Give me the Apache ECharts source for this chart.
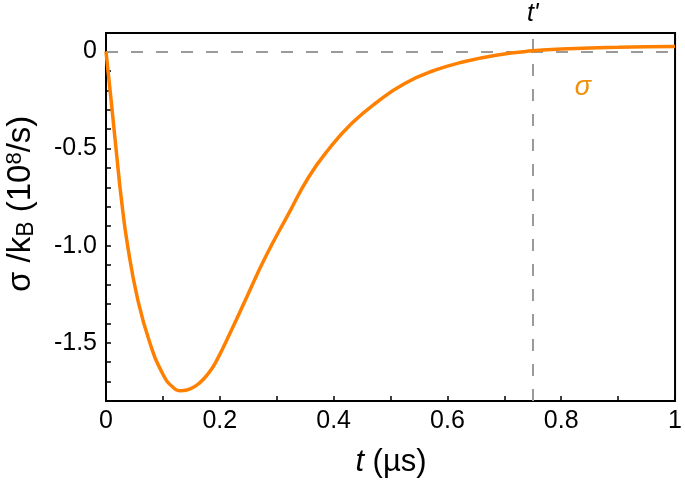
<!DOCTYPE html>
<html>
<head>
<meta charset="utf-8">
<script src="https://cdn.jsdelivr.net/npm/echarts@6/dist/echarts.min.js"></script>
<style>
  html, body { margin: 0; padding: 0; background: #fff; }
  #mychart { width: 685px; height: 482px; }
</style>
</head>
<body>
<div id="mychart"></div>
<script>
// values
const tVals = [0, 0.005, 0.010, 0.019, 0.027, 0.038, 0.056, 0.077, 0.100, 0.117, 0.132, 0.148, 0.164, 0.180, 0.193,
  0.222, 0.245, 0.280, 0.321, 0.356, 0.391, 0.432, 0.478, 0.525, 0.577, 0.629, 0.688, 0.75, 0.80, 0.85, 0.90, 0.95, 1.0]
const sigmaVals = [0, -0.14, -0.28, -0.54, -0.76, -1.00, -1.28, -1.50, -1.662, -1.727, -1.747, -1.738, -1.708, -1.657, -1.60,
  -1.425, -1.28, -1.06, -0.835, -0.648, -0.505, -0.370, -0.257, -0.165, -0.098, -0.053, -0.018, 0.003, 0.012, 0.018, 0.021, 0.024, 0.026]
const tPrime = 0.75
const xTickLabels = ['0', '0.2', '0.4', '0.6', '0.8', '1']
const yTickLabels = ['0', '-0.5', '-1.0', '-1.5']

const font = 'Liberation Sans, Arial, sans-serif'
const orange = '#ff8000'
const grey = '#9a9a9a'

const mychart = echarts.init(document.getElementById('mychart'))

mychart.setOption({
  animation: false,
  grid: {
    left: 106,
    top: 33,
    width: 573,
    height: 368,
    show: true,
    borderColor: '#000',
    borderWidth: 2
  },
  xAxis: {
    type: 'value',
    min: 0,
    max: 1,
    interval: 0.1,
    axisLine: { onZero: false, lineStyle: { color: '#000', width: 2 } },
    axisTick: { inside: true, length: 5, lineStyle: { color: '#000', width: 1.5 } },
    splitLine: { show: false },
    axisLabel: {
      margin: 8,
      fontFamily: font,
      fontSize: 25,
      color: '#000',
      formatter: function (v) {
        const k = Math.round(v * 5)
        if (Math.abs(v * 5 - k) > 1e-6) return ''
        return xTickLabels[k]
      }
    }
  },
  yAxis: {
    type: 'value',
    min: -1.8,
    max: 0.095,
    interval: 0.1,
    axisLine: { onZero: false, lineStyle: { color: '#000', width: 2 } },
    axisTick: { inside: true, length: 5, lineStyle: { color: '#000', width: 1.5 } },
    splitLine: { show: false },
    axisLabel: {
      margin: 9,
      fontFamily: font,
      fontSize: 25,
      color: '#000',
      formatter: function (v) {
        const k = Math.round(-v * 2)
        if (Math.abs(-v * 2 - k) > 1e-6 || k > 3 || k < 0) return ''
        return yTickLabels[k]
      }
    }
  },
  graphic: [
    { // y axis title, reads bottom to top
      type: 'text',
      x: 21,
      y: 292,
      rotation: Math.PI / 2,
      style: {
        text: 'σ /k{sub|B} (10{sup|8}/s)',
        font: '33px ' + font,
        fill: '#000',
        align: 'left',
        verticalAlign: 'middle',
        rich: {
          sub: { fontSize: 23, fontFamily: font, verticalAlign: 'bottom', padding: [10, 0, 0, 0] },
          sup: { fontSize: 22, fontFamily: font, verticalAlign: 'top', padding: [0, 0, 12, 0] }
        }
      }
    },
    { // x axis title
      type: 'text',
      x: 391,
      y: 462,
      style: {
        text: '{i|t} (µs)',
        font: '31px ' + font,
        fill: '#000',
        align: 'center',
        verticalAlign: 'middle',
        rich: {
          i: { fontStyle: 'italic', fontSize: 31, fontFamily: font }
        }
      }
    },
    { // series label
      type: 'text',
      x: 583,
      y: 87,
      style: {
        text: 'σ',
        font: 'italic 27px ' + font,
        fill: '#f0900a',
        align: 'center',
        verticalAlign: 'middle'
      }
    }
  ],
  series: [{
    type: 'line',
    data: tVals.map((t, i) => [t, sigmaVals[i]]),
    showSymbol: false,
    smooth: 0.5,
    lineStyle: { color: orange, width: 3.5 },
    z: 3,
    markLine: {
      silent: true,
      symbol: 'none',
      z: 2,
      lineStyle: { color: grey, width: 2, type: [12, 13] },
      data: [
        { yAxis: 0, label: { show: false } },
        {
          xAxis: tPrime,
          label: {
            show: true,
            position: 'end',
            distance: 6,
            formatter: "t'",
            fontFamily: font,
            fontStyle: 'italic',
            fontSize: 25,
            color: '#000'
          }
        }
      ]
    }
  }]
})
</script>
</body>
</html>
